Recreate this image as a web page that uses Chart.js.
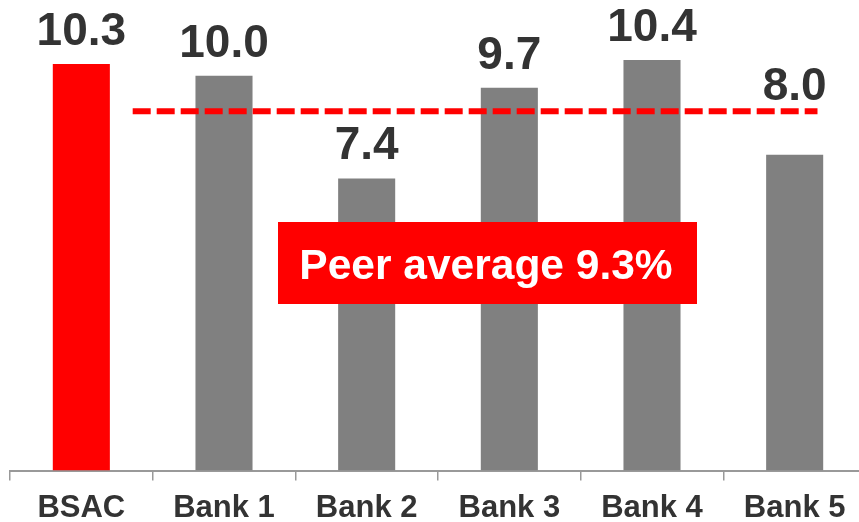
<!DOCTYPE html>
<html>
<head>
<meta charset="utf-8">
<script src="https://cdn.jsdelivr.net/npm/chart.js@4.4.1/dist/chart.umd.min.js"></script>
<style>
    html, body { margin: 0; padding: 0; background: #fff; overflow: hidden; }
    .wrap { position: absolute; left: 0; top: 0; width: 870px; height: 536px; }
</style>
</head>
<body>
<div class="wrap"><canvas class="bar-chart"></canvas></div>
<script>
const banks = ['BSAC', 'Bank 1', 'Bank 2', 'Bank 3', 'Bank 4', 'Bank 5'];
const ratios = [10.3, 10.0, 7.4, 9.7, 10.4, 8.0];
const barColors = ['rgb(255,0,0)', 'rgb(128,128,128)', 'rgb(128,128,128)', 'rgb(128,128,128)', 'rgb(128,128,128)', 'rgb(128,128,128)'];
const peerLineValue = 9.1;   // where the dashed line sits
const peerLabel = 'Peer average 9.3%';

const FONT = '"Liberation Sans", Arial, sans-serif';

// dashed peer line + red callout box + value labels
const overlay = {
    id: 'overlay',
    afterDatasetsDraw(chart, args, opts) {
        const ctx = chart.ctx;
        const x = chart.scales.x, y = chart.scales.y;

        ctx.save();
        ctx.strokeStyle = 'rgb(255,0,0)';
        ctx.lineWidth = 6;
        ctx.setLineDash([18, 6]);
        const ly = y.getPixelForValue(peerLineValue);
        ctx.beginPath();
        ctx.moveTo(x.getPixelForValue(opts.lineFrom), ly);
        ctx.lineTo(x.getPixelForValue(opts.lineTo), ly);
        ctx.stroke();
        ctx.restore();

        ctx.save();
        ctx.font = 'bold 46px ' + FONT;
        ctx.fillStyle = '#333333';
        ctx.textAlign = 'center';
        ctx.textBaseline = 'alphabetic';
        chart.getDatasetMeta(0).data.forEach((bar, i) => {
            const lift = opts.lift[i] || 0;
            ctx.fillText(ratios[i].toFixed(1), bar.x, bar.y - 19 - lift);
        });
        ctx.restore();

        ctx.save();
        ctx.fillStyle = 'rgb(255,0,0)';
        ctx.fillRect(278, 222, 419, 82);
        ctx.fillStyle = '#ffffff';
        ctx.font = 'bold 42.5px ' + FONT;
        ctx.textAlign = 'center';
        ctx.textBaseline = 'alphabetic';
        ctx.fillText(peerLabel, 486, 279);
        ctx.restore();
    }
};

new Chart(document.querySelector('.bar-chart').getContext('2d'), {
    type: 'bar',
    data: {
        labels: banks,
        datasets: [{
            data: ratios,
            backgroundColor: barColors,
            borderWidth: 0,
            barPercentage: 0.4,
            categoryPercentage: 1.0
        }]
    },
    options: {
        responsive: true,
        maintainAspectRatio: false,
        animation: false,
        layout: {
            padding: { left: 10, right: 4, top: 0, bottom: 0 }
        },
        scales: {
            y: {
                display: false,
                min: 0,
                max: 11.92
            },
            x: {
                grid: {
                    drawOnChartArea: false,
                    drawTicks: true,
                    tickLength: 10,
                    color: '#999999',
                    lineWidth: 1.5
                },
                border: {
                    display: true,
                    color: '#999999',
                    width: 2
                },
                ticks: {
                    color: '#333333',
                    padding: 13,
                    font: { family: FONT, size: 31, weight: 'bold', lineHeight: 0.95 }
                }
            }
        },
        plugins: {
            legend: { display: false },
            tooltip: { enabled: false },
            overlay: { lineFrom: 0.36, lineTo: 5.16, lift: { 5: 36 } }
        }
    },
    plugins: [overlay]
});
</script>
</body>
</html>
